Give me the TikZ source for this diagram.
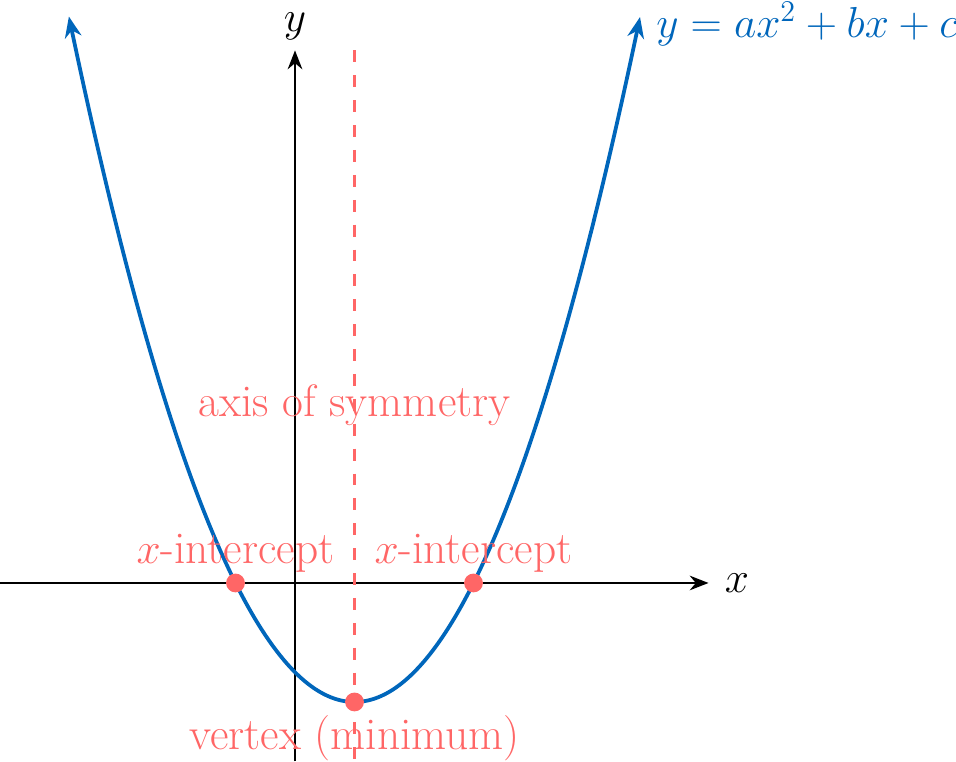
\documentclass[tikz,border=0pt]{standalone}
\usetikzlibrary{arrows.meta}
\definecolor{pblue}{RGB}{0,102,187}
\definecolor{pred}{RGB}{255,102,102}
\begin{document}
\begin{tikzpicture}[x=1cm,y=1cm,
  axisline/.style={line width=1pt,-{Stealth[length=9pt,width=7pt]}},
  curveline/.style={pblue,line width=1.8pt,{Stealth[length=10pt,width=8pt]}-{Stealth[length=10pt,width=8pt]}},
  symline/.style={pred,line width=1pt,dash pattern=on 5.7pt off 6.2pt},
  lbl/.style={pred,font=\fontsize{21.7}{26}\selectfont},
  dotpt/.style={circle,fill=pred,inner sep=0pt,minimum size=9pt}]
\useasboundingbox (-4.958,-3.008) rectangle (11.109,9.798);
\coordinate (xs) at (-5,0);
\coordinate (xe) at (6.95,0);
\coordinate (ys) at (0,-3);
\coordinate (ye) at (0,8.95);
\draw[axisline] (xs) -- (xe);
\draw[axisline] (ys) -- (ye);
\node[font=\fontsize{20}{24}\selectfont,anchor=west] (xl) at (7.1,0) {$x$};
\node[font=\fontsize{20}{24}\selectfont] (yl) at (0,9.35) {$y$};
\coordinate (se) at (1,8.95);
\coordinate (ss) at (1,-3.05);
\draw[symline] (se) -- (ss);
\draw[curveline] plot[domain=-3.8:5.8,samples=120,smooth] (\x,{0.5*(\x-1)^2-2});
\node[pblue,font=\fontsize{20}{24}\selectfont,anchor=west] (eq) at (5.95,9.4) {$y=ax^2+bx+c$};
\node[dotpt] (r1) at (-1,0) {};
\node[dotpt] (r2) at (3,0) {};
\node[dotpt] (v) at (1,-2) {};
\node[lbl] (axl) at (1,2.98) {axis of symmetry};
\node[lbl,anchor=south] (r1l) at (-1,0.05) {$x$-intercept};
\node[lbl,anchor=south] (r2l) at (3,0.05) {$x$-intercept};
\node[lbl,anchor=north] (vl) at (1,-2.1) {vertex (minimum)};
\end{tikzpicture}
\end{document}
